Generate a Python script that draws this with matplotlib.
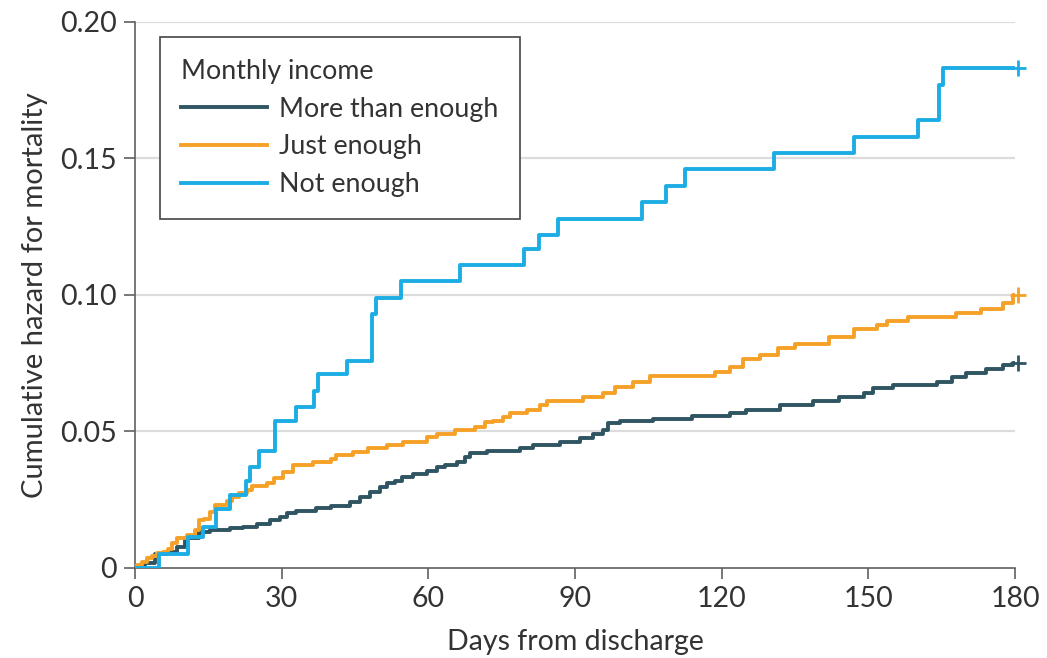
import matplotlib.pyplot as plt

plt.rcParams['font.family'] = ['Lato', 'DejaVu Sans']

# cumulative hazard step curves
days_more = [0, 1, 2, 4, 6.5, 8.6, 10.2, 13, 15.3, 19.4, 22, 25, 27.6, 29.7, 31, 33, 37, 40,
             44, 46, 48, 50.2, 51.5, 53.2, 54.5, 56.9, 59.7, 61.8, 63.4, 65.8, 67.5, 68.5,
             72, 78.8, 81.4, 84.2, 87, 91, 93.7, 95.8, 96.8, 99.2, 106, 114, 121.7, 125,
             132, 138.7, 144, 149, 151, 155, 164, 167, 170, 174, 177.6, 179.5, 180]
haz_more = [0, 0.001, 0.002, 0.005, 0.006, 0.0078, 0.011, 0.013, 0.014, 0.0146, 0.015, 0.016,
            0.0176, 0.0187, 0.020, 0.021, 0.022, 0.0227, 0.024, 0.026, 0.028, 0.0297, 0.031,
            0.032, 0.0333, 0.0344, 0.0355, 0.037, 0.0377, 0.0388, 0.0407, 0.042, 0.0429,
            0.044, 0.045, 0.0452, 0.046, 0.0476, 0.049, 0.0505, 0.053, 0.054, 0.0546, 0.0557,
            0.0567, 0.058, 0.0597, 0.061, 0.0627, 0.064, 0.066, 0.067, 0.068, 0.070, 0.0713,
            0.073, 0.0744, 0.075, 0.075]

days_just = [0, 0.4, 1.4, 2.4, 3.4, 4.4, 5.8, 6.8, 7.5, 8.5, 10.6, 12.3, 13.0, 14.0, 15.3,
             16.4, 18.8, 19.9, 21.2, 22.9, 24.0, 27.0, 28.5, 30.3, 32.3, 36.4, 40.0, 41.0,
             44.6, 47.7, 51.5, 54.8, 59.7, 61.8, 65.5, 69.5, 71.6, 73.2, 75.3, 76.7, 80.2,
             82.8, 84.2, 91.6, 95.8, 98.2, 101.9, 105.4, 118.7, 121.7, 124.4, 127.8, 131.5,
             135, 142, 147, 151.7, 153.8, 158, 168, 173, 177.6, 179.5, 180]
haz_just = [0, 0.001, 0.0022, 0.0035, 0.0044, 0.0055, 0.006, 0.007, 0.009, 0.011, 0.012,
            0.014, 0.0176, 0.018, 0.0206, 0.023, 0.0245, 0.026, 0.0274, 0.0286, 0.030, 0.031,
            0.033, 0.035, 0.0377, 0.0388, 0.040, 0.0414, 0.0425, 0.044, 0.045, 0.046, 0.048,
            0.049, 0.0505, 0.0517, 0.0534, 0.054, 0.0554, 0.0567, 0.058, 0.0597, 0.061,
            0.0627, 0.064, 0.0664, 0.068, 0.0703, 0.0718, 0.0736, 0.0765, 0.078, 0.0805,
            0.082, 0.0846, 0.0875, 0.089, 0.0905, 0.092, 0.0933, 0.095, 0.097, 0.100, 0.100]

days_not = [0, 4.9, 10.8, 13.9, 16.6, 19.4, 22.7, 23.5, 25.4, 28.6, 33, 36.6, 37.4, 43.4,
            48.5, 49.3, 54.4, 66.5, 79.6, 82.6, 86.5, 103.7, 108.6, 112.5, 130.7, 147,
            160.2, 164.5, 165.3, 180]
haz_not = [0, 0.0051, 0.0112, 0.015, 0.0215, 0.0267, 0.032, 0.037, 0.043, 0.054, 0.059,
           0.065, 0.071, 0.076, 0.093, 0.099, 0.105, 0.111, 0.117, 0.122, 0.128, 0.134,
           0.140, 0.146, 0.152, 0.158, 0.164, 0.177, 0.183, 0.183]

labels = ['More than enough', 'Just enough', 'Not enough']
colors = ['#2f5562', '#f5a128', '#1badE4']

fig = plt.figure(figsize=(10.47, 6.58), dpi=100)
ax = fig.add_axes([0.129, 0.1368, 0.8405, 0.8298])

series = [(days_more, haz_more), (days_just, haz_just), (days_not, haz_not)]
for (d, h), lab, c in zip(series, labels, colors):
    ax.step(d, h, where='post', color=c, lw=2.8, label=lab, zorder=3)
    ax.plot([d[-1] + 0.6], [h[-1]], marker='+', ms=12, mew=2, color=c,
            clip_on=False, zorder=4)

ax.set_xlim(0, 180)
ax.set_ylim(0, 0.20)
ax.set_xticks(range(0, 181, 30))
ax.set_yticks([0, 0.05, 0.10, 0.15, 0.20])
ax.set_yticklabels(['0', '0.05', '0.10', '0.15', '0.20'])

for y in [0.05, 0.10, 0.15, 0.20]:
    ax.axhline(y, color='#dcdcdc', lw=1.6, zorder=1)

for s in ['top', 'right']:
    ax.spines[s].set_visible(False)
for s in ['left', 'bottom']:
    ax.spines[s].set_color('#606060')
    ax.spines[s].set_linewidth(1.2)
ax.tick_params(length=8, width=1.2, color='#606060', labelsize=20.5,
               labelcolor='#333333', pad=5)

ax.set_xlabel('Days from discharge', fontsize=20.5, color='#333333', labelpad=12)
ax.set_ylabel('Cumulative hazard for mortality', fontsize=21, color='#333333',
              labelpad=9)

leg = ax.legend(title='Monthly income', loc='upper left',
                bbox_to_anchor=(0.028, 0.972), fontsize=19.3, title_fontsize=19.3,
                frameon=True, fancybox=False, edgecolor='#444444', framealpha=1,
                handlelength=3.2, labelspacing=0.48, borderpad=0.8,
                handletextpad=0.45, alignment='left', borderaxespad=0)
leg.get_frame().set_linewidth(1.2)
leg.get_title().set_color('#333333')
for t in leg.get_texts():
    t.set_color('#333333')

fig.savefig('out.png', dpi=100)
